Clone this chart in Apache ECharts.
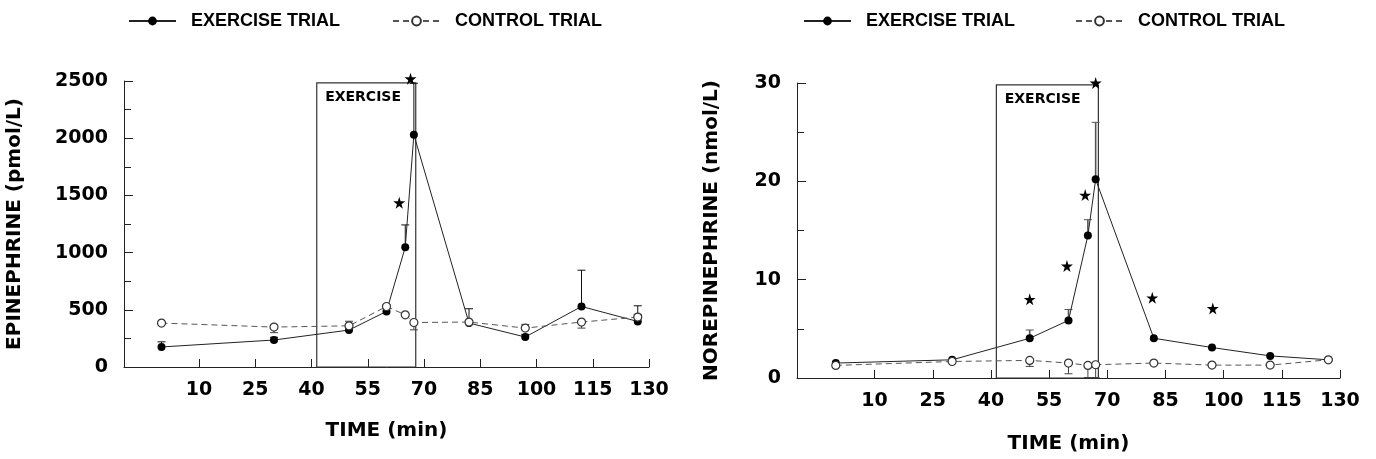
<!DOCTYPE html>
<html>
<head>
<meta charset="utf-8">
<script src="https://cdn.jsdelivr.net/npm/echarts@6/dist/echarts.min.js"></script>
<style>
  html, body { margin: 0; padding: 0; background: #fff; }
  #chart { width: 1376px; height: 459px; }
</style>
</head>
<body>
<div id="chart"></div>
<script>
// values (time in min)
var timeTicks = [10, 25, 40, 55, 70, 85, 100, 115, 130];

var epiTime = [0, 30, 50, 60, 65, 67.3, 82, 97, 112, 127];
var epiExercise = [175, 236, 323, 486, 1047, 2030, 384, 262, 529, 398];
var epiControl = [384, 349, 360, 529, 456, 389, 393, 340, 393, 436];
var epiExerciseErr = [220, 260, 360, 510, 1242, 2480, 509, 285, 846, 535];
var epiControlErr = [null, 300, 400, 545, null, 325, null, 372, 340, 460];
var epiStars = [[66.4, 2520], [63.4, 1436]];
var epiBox = [41.4, 67.8, 2483];

var neTime = [0, 30, 50, 60, 65, 67, 82, 97, 112, 127];
var neExercise = [1.52, 1.85, 4.04, 5.86, 14.5, 20.2, 4.04, 3.1, 2.25, 1.85];
var neControl = [1.28, 1.68, 1.79, 1.52, 1.28, 1.35, 1.52, 1.31, 1.31, 1.85];
var neExerciseErr = [null, null, 4.88, 6.97, 16.1, 26.0, null, null, null, null];
var neControlErr = [null, null, 1.18, 0.43, 0.05, 0.05, null, null, null, null];
var neStars = [[50, 8.0], [59.6, 11.4], [64.3, 18.6], [67, 30.0], [81.6, 8.15], [97.2, 7.07]];
var neBox = [41.4, 67.7, 29.8];

var EX = 'EXERCISE TRIAL', CT = 'CONTROL TRIAL';
var tickFont = { fontFamily: 'DejaVu Sans', fontWeight: 'bold', fontSize: 19, color: '#000' };
var starPath = 'path://M50,0 L61,35 L98,35 L68,57 L79,91 L50,70 L21,91 L32,57 L2,35 L39,35 Z';

function zip(t, v) {
    return t.map(function (x, i) { return [x, v[i]]; });
}
function errData(t, v, e) {
    var out = [];
    t.forEach(function (x, i) {
        if (e[i] != null) out.push([x, v[i], e[i]]);
    });
    return out;
}
function errSeries(idx, data, color, width) {
    return {
        type: 'custom', xAxisIndex: idx, yAxisIndex: idx, z: 1, silent: true,
        encode: { x: 0, y: [1, 2] },
        data: data,
        renderItem: function (params, api) {
            var p = api.coord([api.value(0), api.value(1)]);
            var e = api.coord([api.value(0), api.value(2)]);
            var st = { stroke: color, lineWidth: width };
            return {
                type: 'group',
                children: [
                    { type: 'line', shape: { x1: p[0], y1: p[1], x2: e[0], y2: e[1] }, style: st },
                    { type: 'line', shape: { x1: e[0] - 4, y1: e[1], x2: e[0] + 4, y2: e[1] }, style: { stroke: color, lineWidth: 1 } }
                ]
            };
        }
    };
}
function xAxis(idx, gap) {
    return {
        type: 'value', gridIndex: idx, min: -10, max: 130,
        name: 'TIME (min)', nameLocation: 'middle', nameGap: gap,
        nameTextStyle: { fontFamily: 'DejaVu Sans', fontWeight: 'bold', fontSize: 20, color: '#000' },
        axisLine: { onZero: false, lineStyle: { color: '#222', width: 1 } },
        axisTick: { inside: true, length: 8, customValues: timeTicks, lineStyle: { color: '#222' } },
        axisLabel: Object.assign({ customValues: timeTicks, margin: 14 }, tickFont),
        splitLine: { show: false }
    };
}
function yAxis(idx, name, max, interval, gap) {
    return {
        type: 'value', gridIndex: idx, min: 0, max: max, interval: interval,
        name: name, nameLocation: 'middle', nameRotate: 90, nameGap: gap,
        nameTextStyle: { fontFamily: 'DejaVu Sans', fontWeight: 'bold', fontSize: 20, color: '#000' },
        axisLine: { show: true, onZero: false, lineStyle: { color: '#222', width: 1 } },
        axisTick: { show: true, inside: true, length: 9, lineStyle: { color: '#222' } },
        minorTick: { show: true, splitNumber: 2, length: 7, lineStyle: { color: '#222' } },
        axisLabel: Object.assign({ margin: 16, formatter: function (v) { return String(v); } }, tickFont),
        splitLine: { show: false }
    };
}
function lineSeries(idx, name, data, dashed) {
    return {
        name: name, type: 'line', xAxisIndex: idx, yAxisIndex: idx, z: 3,
        data: data, symbol: 'circle', symbolSize: 8, clip: false,
        lineStyle: dashed ? { color: '#555', width: 1, type: [6, 4] } : { color: '#222', width: 1 },
        itemStyle: dashed ? { color: '#fff', borderColor: '#333', borderWidth: 1.2 } : { color: '#000' }
    };
}
function starSeries(idx, data, box) {
    return {
        type: 'scatter', xAxisIndex: idx, yAxisIndex: idx, z: 4, silent: true, clip: false,
        symbol: starPath, symbolSize: 12, itemStyle: { color: '#000', opacity: 1 },
        data: data,
        markArea: {
            silent: true,
            itemStyle: { color: 'rgba(0,0,0,0)', borderColor: '#333', borderWidth: 1.2 },
            label: {
                show: true, position: [9, 8], color: '#000',
                fontFamily: 'DejaVu Sans', fontWeight: 'bold', fontSize: 14
            },
            data: [[{ name: 'EXERCISE', coord: [box[0], 0] }, { coord: [box[1], box[2]] }]]
        }
    };
}
function legend(name, left) {
    return {
        data: [name], left: left, top: 7, itemWidth: 47, itemHeight: 11,
        selectedMode: false,
        textStyle: { fontFamily: 'Liberation Sans', fontWeight: 'bold', fontSize: 18, color: '#000', padding: [0, 0, 0, 10] }
    };
}

var chart = echarts.init(document.getElementById('chart'));
chart.setOption({
    animation: false,
    legend: [
        legend(EX, 123), legend(CT, 387),
        legend(EX, 798), legend(CT, 1070)
    ],
    grid: [
        { left: 124, top: 81, width: 525, height: 286 },
        { left: 797, top: 83, width: 543, height: 297 }
    ],
    xAxis: [xAxis(0, 54), xAxis(1, 56)],
    yAxis: [
        yAxis(0, 'EPINEPHRINE (pmol/L)', 2500, 500, 99),
        yAxis(1, 'NOREPINEPHRINE (nmol/L)', 30, 10, 75)
    ],
    series: [
        errSeries(0, errData(epiTime, epiExercise, epiExerciseErr), '#111', 1),
        errSeries(0, errData(epiTime, epiControl, epiControlErr), '#444', 1),
        lineSeries(0, EX, zip(epiTime, epiExercise), false),
        lineSeries(0, CT, zip(epiTime, epiControl), true),
        starSeries(0, epiStars, epiBox),
        errSeries(1, errData(neTime, neExercise, neExerciseErr), '#555', 1.6),
        errSeries(1, errData(neTime, neControl, neControlErr), '#444', 1),
        lineSeries(1, EX, zip(neTime, neExercise), false),
        lineSeries(1, CT, zip(neTime, neControl), true),
        starSeries(1, neStars, neBox)
    ]
});
</script>
</body>
</html>
